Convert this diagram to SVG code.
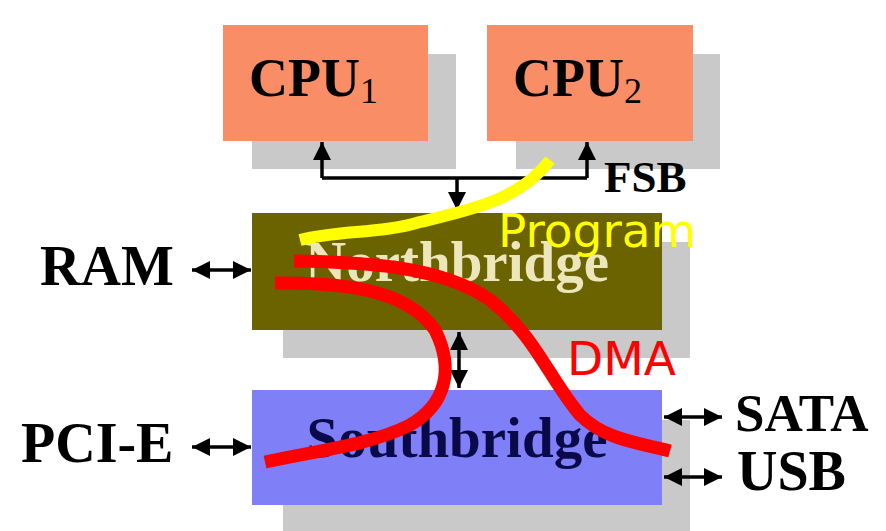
<svg xmlns="http://www.w3.org/2000/svg" width="886" height="531" viewBox="0 0 886 531">
<defs>
<marker id="ahb" viewBox="0 0 10 10" refX="10" refY="5" markerWidth="18" markerHeight="18" markerUnits="userSpaceOnUse" orient="auto-start-reverse"><path d="M0,0 L10,5 L0,10 z" fill="#000"/></marker>
</defs>
<style>
.sh{fill:#c9c9c9}
.cpu{fill:#f88d66}
.lbl{font-family:"Liberation Serif","Times New Roman",serif;font-weight:bold;fill:#000}
.sub{font-family:"Liberation Serif","Times New Roman",serif;font-weight:normal;fill:#000}
.ln{stroke:#000;stroke-width:3.5;fill:none}
.hand{font-family:"DejaVu Sans",sans-serif}
</style>
<rect width="886" height="531" fill="#fff"/>
<g id="cpu1">
<rect class="sh" x="252" y="54" width="204" height="115"/>
<rect class="cpu" x="223" y="25" width="205" height="116"/>
<text class="lbl" x="249" y="96" font-size="54">CPU<tspan class="sub" font-size="36" dy="7">1</tspan></text>
</g>
<g id="cpu2">
<rect class="sh" x="516" y="54" width="204" height="115"/>
<rect class="cpu" x="487" y="25" width="206" height="116"/>
<text class="lbl" x="513" y="96" font-size="54">CPU<tspan class="sub" font-size="36" dy="7">2</tspan></text>
</g>
<g id="northbridge">
<rect class="sh" x="283" y="242" width="407" height="116"/>
<rect x="252" y="213" width="410" height="117" fill="#6b6200"/>
<text x="457" y="281" font-size="57" text-anchor="middle" font-family="Liberation Serif,serif" font-weight="bold" fill="#ece6bb">Northbridge</text>
</g>
<g id="southbridge">
<rect class="sh" x="283" y="420" width="407" height="111"/>
<rect x="252" y="390" width="410" height="115" fill="#7f7ff8"/>
<text x="457" y="457" font-size="57" text-anchor="middle" font-family="Liberation Serif,serif" font-weight="bold" fill="#0a0a4a">Southbridge</text>
</g>
<g id="ram"><text class="lbl" x="40" y="285" font-size="56">RAM</text></g>
<g id="pcie"><text class="lbl" x="21" y="462" font-size="56">PCI-E</text></g>
<g id="sata"><text class="lbl" x="735" y="431" font-size="53">SATA</text></g>
<g id="usb"><text class="lbl" x="737" y="490" font-size="56">USB</text></g>
<g id="fsb"><text class="lbl" x="604" y="192" font-size="45">FSB</text></g>
<g id="connectors">
<path class="ln" d="M322,178 H587"/>
<path class="ln" d="M322,178 V142" marker-end="url(#ahb)"/>
<path class="ln" d="M587,178 V142" marker-end="url(#ahb)"/>
<path class="ln" d="M457,178 V210" marker-end="url(#ahb)"/>
<path class="ln" d="M192,270 H251" marker-start="url(#ahb)" marker-end="url(#ahb)"/>
<path class="ln" d="M192,447 H251" marker-start="url(#ahb)" marker-end="url(#ahb)"/>
<path class="ln" d="M664,417 H722" marker-start="url(#ahb)" marker-end="url(#ahb)"/>
<path class="ln" d="M664,477 H722" marker-start="url(#ahb)" marker-end="url(#ahb)"/>
<path class="ln" d="M459,332 V388" marker-start="url(#ahb)" marker-end="url(#ahb)"/>
</g>
<g id="annotations">
<path d="M300,240 C340,230 380,234 420,222 C470,210 520,200 550,160" fill="none" stroke="#ffff00" stroke-width="12"/>
<path d="M294,261 C360,262 440,265 490,300 C535,335 550,380 580,415 C605,440 640,443 670,451" fill="none" stroke="#ff0000" stroke-width="13"/>
<path d="M275,283 C360,282 410,295 435,330 C455,370 445,405 410,425 C370,445 320,450 265,462" fill="none" stroke="#ff0000" stroke-width="13"/>
<text class="hand" x="498" y="247" font-size="47" fill="#ffff00">Program</text>
<text class="hand" x="567" y="375" font-size="47" fill="#ff0000">DMA</text>
</g>
</svg>
